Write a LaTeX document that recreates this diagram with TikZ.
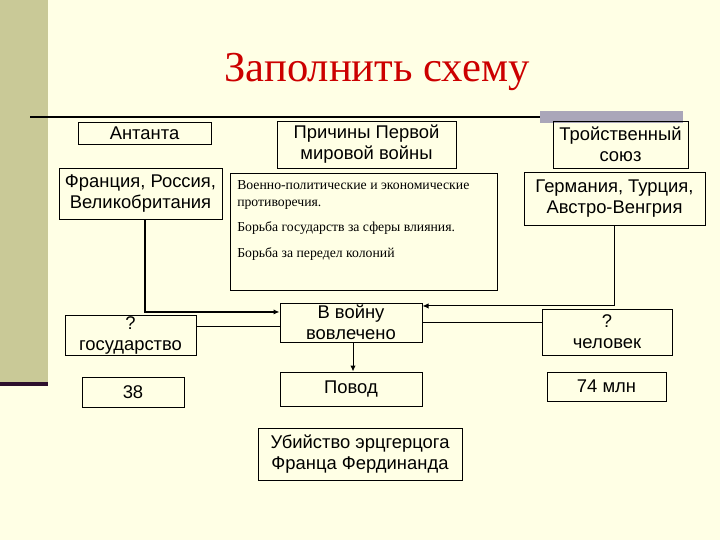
\documentclass[tikz,border=0pt]{standalone}
\usepackage{fontspec}
\setmainfont{Liberation Sans}
\newfontfamily\serifrm{Liberation Serif}
\usetikzlibrary{arrows.meta}
\definecolor{paper}{RGB}{255,255,229}
\definecolor{olive}{RGB}{201,201,151}
\definecolor{plum}{RGB}{45,15,45}
\definecolor{bargray}{RGB}{170,166,185}
\definecolor{titlered}{RGB}{204,0,0}
\begin{document}
\begin{tikzpicture}[x=0.75pt,y=-0.75pt,
  box/.style={draw,line width=0.75pt,inner sep=0pt,align=center,font=\fontsize{13.8}{15.75}\selectfont},
  conn/.style={line width=0.75pt},
  tip/.style={-{Latex[length=4.5pt,width=4pt]}}]
\fill[paper] (0,0) rectangle (720,540);
\useasboundingbox (0,0) rectangle (720,540);
\fill[olive] (0,0) rectangle (48,382);
\fill[plum] (0,382) rectangle (48,386);
\fill[bargray] (540,111) rectangle (683,123);
\draw[line width=1.6pt] (30,117) -- (540,117);
\node[text=titlered,font=\serifrm\fontsize{32}{36}\selectfont] (title) at (377,72) {Заполнить схему};
\foreach \nm/\cx/\cy/\w/\h/\txt in {
  ant/144.5/133/133/22/{Антанта},
  prich/366.5/144.5/179/47/{Причины Первой\\мировой войны},
  troi/620.5/144.5/135/47/{Тройственный\\союз},
  fr/140.5/193.5/163/51/{Франция, Россия,\\Великобритания},
  ger/614.5/198.5/181/53/{Германия, Турция,\\Австро-Венгрия},
  vov/351/322.5/142/39/{В войну\\вовлечено},
  gos/130.5/335/131/40/{?\\государство},
  chel/607/332/130/46/{?\\человек},
  n38/133/392/102/30/{38},
  povod/351/389/142/34/{Повод},
  mln/606.5/386.5/119/29/{74 млн},
  ubi/360/454/204/52/{Убийство эрцгерцога\\Франца Фердинанда}} {
  \node[box,minimum width=\w*0.75pt,minimum height=\h*0.75pt] (\nm) at (\cx,\cy) {\txt};
}
\node[draw,line width=0.75pt,minimum width=200.25pt,minimum height=87.75pt] (causes) at (363.5,231.5) {};
\node[anchor=north west,inner sep=0pt,align=left,font=\serifrm\fontsize{10.3}{13}\selectfont] (causestxt) at (237,180)
  {Военно-политические и экономические\\противоречия.\\[6pt]Борьба государств за сферы влияния.\\[6pt]Борьба за передел колоний};
\draw[conn,line width=1.5pt,tip] ([xshift=3pt]fr.south) |- ([yshift=7.9pt]vov.west);
\draw[conn,tip] (ger.south) |- ([yshift=12.4pt]vov.east);
\draw[conn] ([yshift=6.75pt]gos.east) -- ([yshift=6.75pt]gos.east -| vov.west);
\draw[conn] ([yshift=7.5pt]chel.west) -- ([yshift=7.5pt]chel.west -| vov.east);
\draw[conn,tip] ([xshift=1.5pt]vov.south) -- ([xshift=1.5pt]povod.north);
\end{tikzpicture}
\end{document}
